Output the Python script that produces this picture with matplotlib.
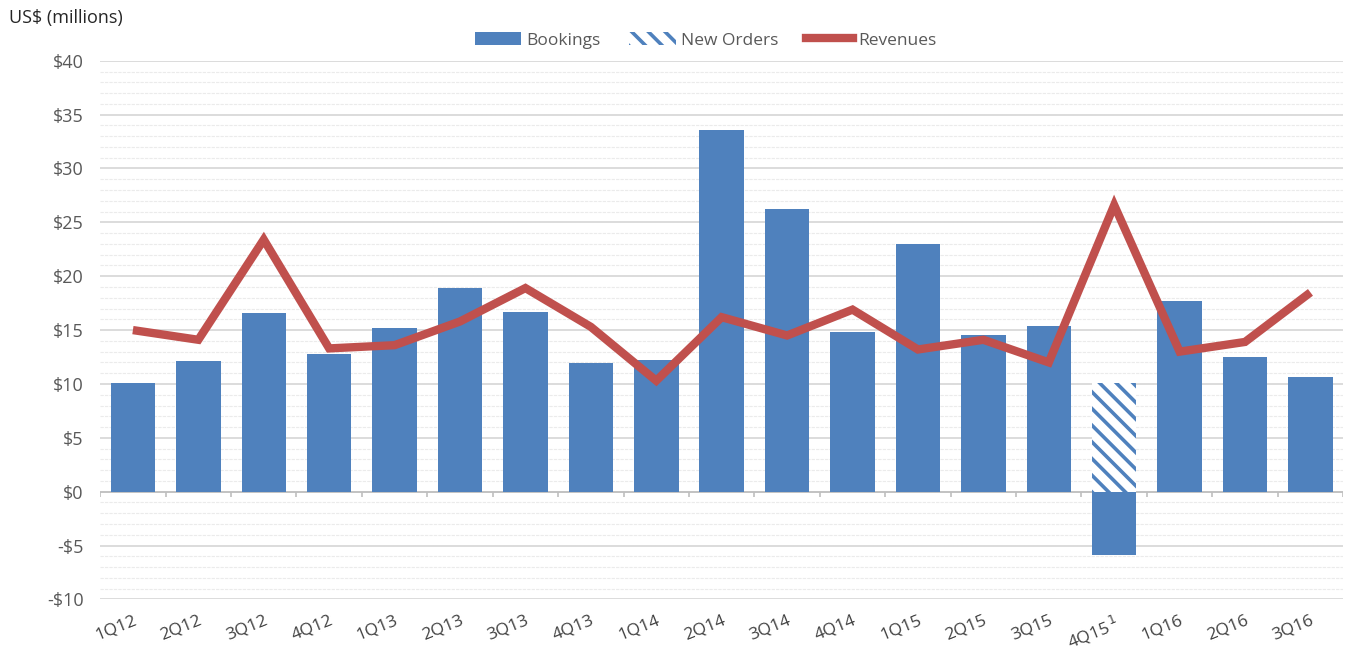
import numpy as np
import matplotlib.pyplot as plt
from matplotlib.ticker import MultipleLocator, FuncFormatter
from matplotlib.patches import Patch
from matplotlib.lines import Line2D

quarters = ["1Q12", "2Q12", "3Q12", "4Q12", "1Q13", "2Q13", "3Q13", "4Q13",
            "1Q14", "2Q14", "3Q14", "4Q14", "1Q15", "2Q15", "3Q15", "4Q15",
            "1Q16", "2Q16", "3Q16"]
bookings = [10.1, 12.1, 16.6, 12.8, 15.2, 18.9, 16.7, 11.9, 12.2, 33.6,
            26.2, 14.8, 23.0, 14.5, 15.4, -5.9, 17.7, 12.5, 10.6]
new_orders = [0, 0, 0, 0, 0, 0, 0, 0, 0, 0,
              0, 0, 0, 0, 0, 10.1, 0, 0, 0]
revenues = [15.0, 14.1, 23.4, 13.3, 13.6, 15.8, 18.9, 15.3, 10.3, 16.2,
            14.5, 16.9, 13.2, 14.1, 12.0, 26.6, 13.0, 13.9, 18.5]

blue = "#4F81BD"
red = "#C0504D"
grey = "#595959"

plt.rcParams['font.family'] = ['Open Sans', 'DejaVu Sans']
plt.rcParams['hatch.linewidth'] = 2.6

fig = plt.figure(figsize=(13.54, 6.53), dpi=100)
ax = fig.add_axes([0.074, 0.082, 0.918, 0.825])

x = np.arange(len(quarters))
ax.bar(x, bookings, width=0.68, color=blue, zorder=3)
ax.bar(x, new_orders, width=0.68, facecolor="white", edgecolor=blue,
       linewidth=0, hatch="\\\\", zorder=3)
ax.plot(x, revenues, color=red, linewidth=6, solid_joinstyle="miter",
        solid_capstyle="butt", zorder=4)

ax.set_xlim(-0.5, len(quarters) - 0.5)
ax.set_ylim(-10, 40)
ax.yaxis.set_major_locator(MultipleLocator(5))
ax.yaxis.set_minor_locator(MultipleLocator(1))
ax.yaxis.set_major_formatter(FuncFormatter(
    lambda v, p: ("-$%d" % abs(v)) if v < 0 else ("$%d" % v)))
ax.grid(axis="y", which="major", color="#D9D9D9", linewidth=1.3, zorder=0)
ax.grid(axis="y", which="minor", color="#EBEBEB", linewidth=0.8,
        linestyle=(0, (3, 1)), zorder=0)

# zero axis with small ticks between categories
ax.axhline(0, color="#BFBFBF", linewidth=1.2, zorder=2)
ax.vlines(np.arange(len(quarters) + 1) - 0.5, -0.5, 0, color="#BFBFBF",
          linewidth=1.2, zorder=2)

labels = [q if q != "4Q15" else "4Q15$^{\\,1}$" for q in quarters]
ax.set_xticks(x)
ax.set_xticklabels(labels, rotation=22, ha="right", rotation_mode="anchor",
                   fontsize=12.5, color="#404040")
ax.tick_params(axis="x", length=0, pad=9)
ax.tick_params(axis="y", which="both", length=0, labelsize=13,
               labelcolor=grey, pad=12)
for s in ax.spines.values():
    s.set_visible(False)

fig.text(0.007, 0.972, "US$ (millions)", fontsize=13, color="#262626",
         va="center", ha="left")

handles = [Patch(facecolor=blue, label="Bookings"),
           Patch(facecolor="white", edgecolor=blue, linewidth=0,
                 hatch="\\\\", label="New Orders"),
           Line2D([0], [0], color=red, linewidth=6, label="Revenues")]
fig.legend(handles=handles, loc="center", bbox_to_anchor=(0.521, 0.938),
           ncol=3, frameon=False, fontsize=12.5, handlelength=2.7,
           handletextpad=0.3, columnspacing=1.6, labelcolor=grey)

fig.savefig("out.png", dpi=100)
